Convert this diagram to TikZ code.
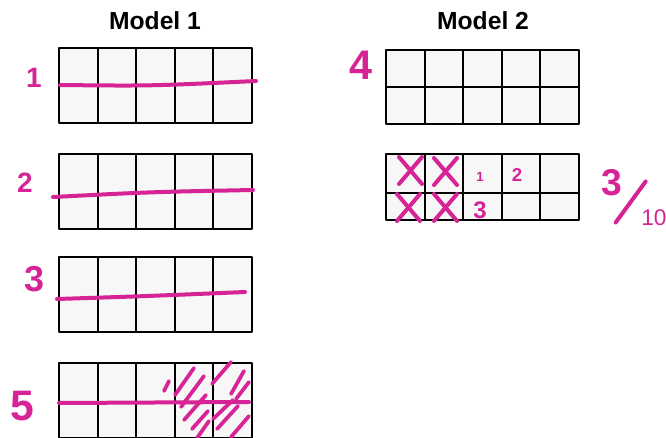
\documentclass[tikz,border=0pt]{standalone}
\usepackage{fontspec}
\setmainfont{Liberation Sans}
\usetikzlibrary{positioning}
\definecolor{pen}{RGB}{214,36,150}
\newcommand\inksize[1]{\fontsize{#1}{#1}\selectfont}

\begin{document}
\begin{tikzpicture}[x=0.75pt,y=-0.75pt,line join=round,
 frame/.style={draw=black,line width=1.5pt,fill=black!3},
 rule/.style={draw=black,line width=1.5pt},
 ink/.style={draw=pen,line width=3pt,line cap=round},
 hatch/.style={draw=pen,line width=2.8pt,line cap=round},
 title/.style={font=\bfseries\inksize{18.5}},
 digit/.style={text=pen,inner sep=0pt}]
\useasboundingbox (0,0) rectangle (666,438);
\node[title] (m1) at (155,21) {Model 1};
\node[title] (m2) at (483,21) {Model 2};
% model 1: four bars cut in fifths
\foreach \y in {48,154,257,363}{
  \draw[frame] (59,\y) rectangle ++(193,75);
  \foreach \i in {1,...,4} \draw[rule] (59+\i*38.6,\y) -- ++(0,75);
}
\draw[ink] (60,85) .. controls (150,86) .. (256,81);
\draw[ink] (53,197) .. controls (150,192) .. (253,190);
\draw[ink] (57,299) .. controls (150,296) .. (245,292);
\draw[ink] (59,403) -- (249,402);
\foreach \xa/\ya/\xb/\yb in {164/391/169/381,175/395/194/368,181/407/204/376,
  184/420/206/395,192/429/208/411,197/438/209/421,212/384/231/362,231/394/244/371,
  236/399/249/382,213/419/233/400,217/429/238/406,231/437/249/416}
  \draw[hatch] (\xa,\ya) -- (\xb,\yb);
\node[digit,font=\bfseries\inksize{21}] (n1) at (34,78) {1};
\node[digit,font=\bfseries\inksize{21}] (n2) at (25,183) {2};
\node[digit,font=\bfseries\inksize{27}] (n3) at (35,279) {3};
\node[digit,font=\bfseries\inksize{32}] (n5) at (22,406) {5};
% model 2: two grids of ten
\draw[frame] (386,50) rectangle (579,124);
\draw[rule] (386,87) -- (579,87);
\foreach \i in {1,...,4} \draw[rule] (386+\i*38.6,50) -- (386+\i*38.6,124);
\draw[frame] (386,154) rectangle (579,220);
\draw[rule] (386,193) -- (579,193);
\foreach \i in {1,...,4} \draw[rule] (386+\i*38.6,154) -- (386+\i*38.6,220);
\node[digit,font=\bfseries\inksize{31}] (n4) at (361,65) {4};
\foreach \x/\y in {399/157,434/158,397/194,434/194}{
  \draw[ink] (\x,\y) -- ++(23,27);
  \draw[ink] (\x+23,\y) -- ++(-23,27);
}
\node[digit,font=\bfseries\inksize{10}] (c1) at (480,177) {1};
\node[digit,font=\bfseries\inksize{14}] (c2) at (517,175) {2};
\node[digit,font=\bfseries\inksize{18}] (c3) at (480,210) {3};
\node[digit,font=\bfseries\inksize{28}] (num) at (612,183) {3};
\node[digit,font=\inksize{17},anchor=west] (den) at (641,218) {10};
\draw[ink] (num.south east) ++(-7,26) -- ++(30,-41);
\end{tikzpicture}
\end{document}
